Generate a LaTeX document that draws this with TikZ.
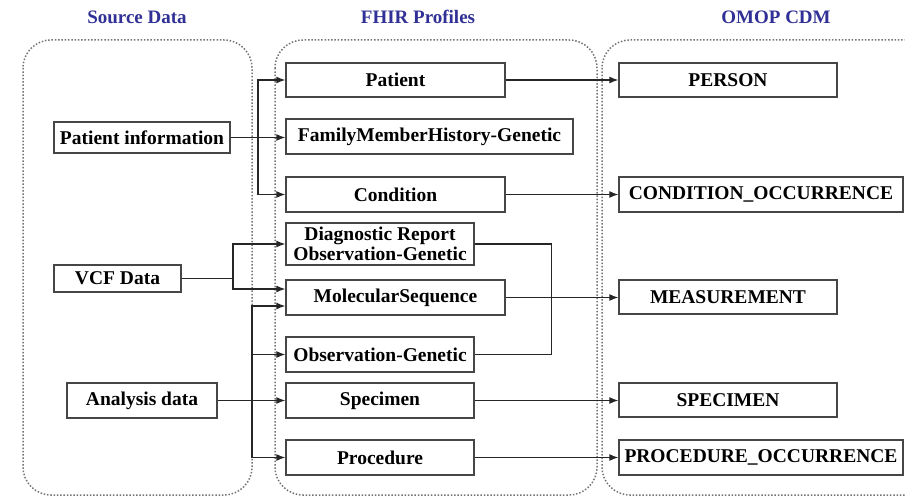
\documentclass[tikz,border=0pt]{standalone}
\usepackage{fontspec}
\setmainfont{Liberation Serif}
\usetikzlibrary{arrows.meta,calc}
\definecolor{titleblue}{RGB}{48,48,150}
\definecolor{edgegray}{RGB}{70,70,70}
\begin{document}
\begin{tikzpicture}[x=1pt,y=-1pt,
  box/.style={draw=edgegray, line width=1.4pt, fill=white, inner sep=0pt,
    align=center, font=\fontsize{19.5}{19.5}\selectfont\bfseries},
  group/.style={draw=black!55, line width=1.5pt, dash pattern=on 1.5pt off 1.8pt,
    rounded corners=28pt},
  title/.style={font=\fontsize{19}{21}\selectfont\bfseries, text=titleblue},
  link/.style={draw=black!85, line width=1.2pt},
  arr/.style={link, -{Latex[length=9pt,width=7pt]}}]
\useasboundingbox (0,0) rectangle (905,497);

% dotted group outlines
\draw[group] (23,40) rectangle (252,495);
\draw[group] (275,40) rectangle (597,495);
\draw[group] (602,40) rectangle (935,495);

% column headings
\node[title] (tsrc) at (137,17) {Source Data};
\node[title] (tfhir) at (418,17) {FHIR Profiles};
\node[title] (tomop) at (776,17) {OMOP CDM};

% source data
\node[box, minimum width=176, minimum height=31] (pinfo) at (142,137.5) {Patient information};
\node[box, minimum width=127, minimum height=27] (vcf) at (117.5,278.5) {VCF Data};
\node[box, minimum width=150, minimum height=35] (anal) at (142,400.5) {Analysis data};

% FHIR profiles
\node[box, minimum width=219, minimum height=34] (patient) at (395.5,80) {Patient};
\node[box, minimum width=287, minimum height=35] (fmh) at (429.5,136.5) {FamilyMemberHistory-Genetic};
\node[box, minimum width=219, minimum height=35] (cond) at (395.5,194.5) {Condition};
\node[box, minimum width=188, minimum height=42, font=\fontsize{19.5}{20}\selectfont\bfseries] (diag) at (380,244) {Diagnostic Report\\Observation-Genetic};
\node[box, minimum width=219, minimum height=35] (mol) at (395.5,297.5) {MolecularSequence};
\node[box, minimum width=188, minimum height=35] (obs) at (380,354.5) {Observation-Genetic};
\node[box, minimum width=188, minimum height=35] (spec) at (380,400.5) {Specimen};
\node[box, minimum width=188, minimum height=35] (proc) at (380,457.5) {Procedure};

% OMOP tables
\node[box, minimum width=218, minimum height=34] (person) at (728,80) {PERSON};
\node[box, minimum width=284, minimum height=35] (condocc) at (761,194.5) {CONDITION\_OCCURRENCE};
\node[box, minimum width=218, minimum height=34] (meas) at (728,297) {MEASUREMENT};
\node[box, minimum width=218, minimum height=34] (specimen) at (728,400) {SPECIMEN};
\node[box, minimum width=284, minimum height=35] (prococc) at (761,457.5) {PROCEDURE\_OCCURRENCE};

% junction points
\coordinate (jp) at (258,137.5);
\coordinate (jv) at (233,278.5);
\coordinate (ja) at (252,400.5);
\coordinate (molhi) at ($(mol.west)+(0,-8.5)$);
\coordinate (mollo) at ($(mol.west)+(0,8.5)$);

% patient information
\draw[arr] (pinfo.east) -- (pinfo.east -| fmh.west);
\draw[arr] (jp) |- (patient.west);
\draw[arr] (jp) |- (cond.west);

% VCF data
\draw[link] (vcf.east) -- (jv);
\draw[arr] (jv) |- (diag.west);
\draw[arr] (jv) |- (molhi);

% analysis data
\draw[arr] (anal.east) -- (anal.east -| spec.west);
\draw[arr] (ja) |- (mollo);
\draw[arr] (ja) |- (obs.west);
\draw[arr] (ja) |- (proc.west);

% bracket joining the two genetic observations
\draw[link] (diag.east) -- ++(77,0) |- (obs.east);

% FHIR to OMOP
\draw[arr] (patient.east) -- (patient.east -| person.west);
\draw[arr] (cond.east) -- (cond.east -| condocc.west);
\draw[arr] (mol.east) -- (mol.east -| meas.west);
\draw[arr] (spec.east) -- (spec.east -| specimen.west);
\draw[arr] (proc.east) -- (proc.east -| prococc.west);
\end{tikzpicture}
\end{document}
